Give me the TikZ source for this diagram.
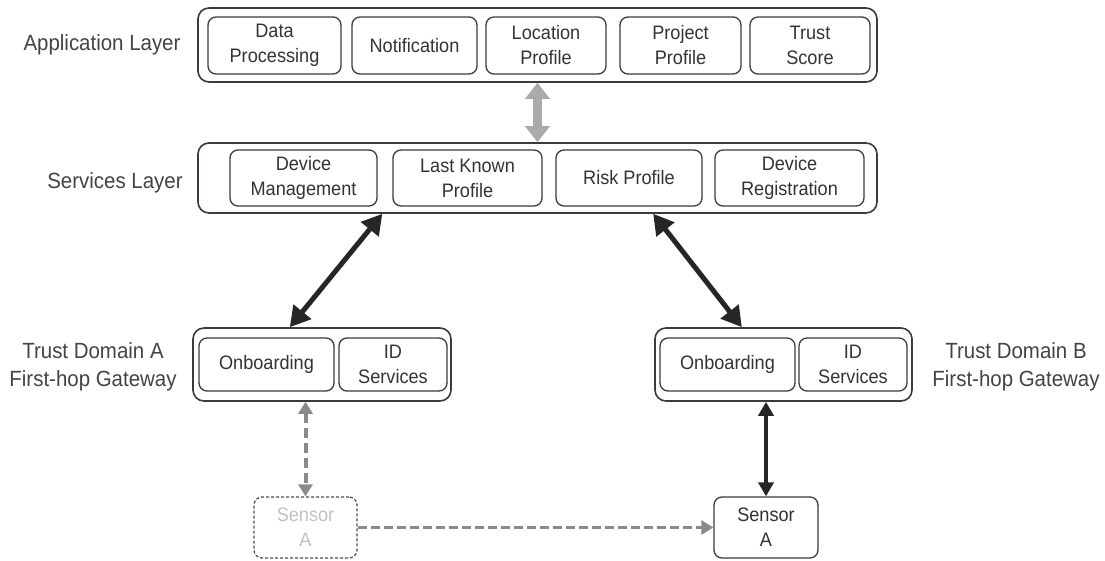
\documentclass[tikz,border=0pt]{standalone}
\usepackage{fontspec}
\setmainfont{Liberation Sans}[FakeStretch=0.93]
\usetikzlibrary{arrows.meta,calc}
\definecolor{bord}{HTML}{3A3A46}
\definecolor{txt}{HTML}{333333}
\definecolor{lbl}{HTML}{444444}
\definecolor{garrow}{HTML}{AAAAAA}
\definecolor{darrow}{HTML}{8A8A8A}
\definecolor{barrow}{HTML}{262626}
\definecolor{faded}{HTML}{C2C2C2}
\tikzset{
  outerbox/.style={draw=bord, line width=1.6pt, rounded corners=11pt, inner sep=0pt},
  inbox/.style={draw=bord, line width=1.3pt, rounded corners=8pt, align=center, text=txt,
    font=\fontsize{19.5}{25}\selectfont, inner sep=0pt},
  layerlabel/.style={align=center, text=lbl, font=\fontsize{22}{28}\selectfont, inner sep=0pt},
  bigblack/.style={draw=barrow, line width=5pt, {Triangle[length=20pt,width=22pt]}-{Triangle[length=20pt,width=22pt]}},
  biggray/.style={draw=garrow, line width=9pt, {Triangle[length=16pt,width=24pt]}-{Triangle[length=16pt,width=24pt]}},
  dashgray/.style={draw=darrow, line width=4pt, dash pattern=on 10pt off 5pt, {Triangle[length=12pt,width=14pt]}-{Triangle[length=12pt,width=14pt]}},
  dashgrayone/.style={draw=darrow, line width=3pt, dash pattern=on 9pt off 4pt, -{Triangle[length=12pt,width=14pt]}},
  thinblack/.style={draw=barrow, line width=3.5pt, {Triangle[length=14pt,width=15pt]}-{Triangle[length=14pt,width=15pt]}},
}
\begin{document}
\begin{tikzpicture}[x=1pt,y=-1pt]
\fill[white] (0,0) rectangle (1105,561);
\useasboundingbox (0,0) rectangle (1105,561);

% Application layer
\node[outerbox, minimum width=679pt, minimum height=74pt] (app) at (537.5,45) {};
\node[inbox, minimum width=133pt, minimum height=57pt] (dp) at (274.5,45.5) {Data\\Processing};
\node[inbox, minimum width=125pt, minimum height=57pt] (nt) at (414.5,45.5) {Notification};
\node[inbox, minimum width=120pt, minimum height=57pt] (lp) at (546,45.5) {Location\\Profile};
\node[inbox, minimum width=121pt, minimum height=57pt] (pp) at (680.5,45.5) {Project\\Profile};
\node[inbox, minimum width=120pt, minimum height=57pt] (ts) at (810,45.5) {Trust\\Score};
\node[layerlabel] (applbl) at (102,45) {Application Layer};

% Services layer
\node[outerbox, minimum width=679pt, minimum height=70pt] (svc) at (537.5,178) {};
\node[inbox, minimum width=147pt, minimum height=56pt] (dm) at (303.5,178) {Device\\Management};
\node[inbox, minimum width=149pt, minimum height=56pt] (lk) at (467.5,178) {Last Known\\Profile};
\node[inbox, minimum width=146pt, minimum height=56pt] (rp) at (629,178) {Risk Profile};
\node[inbox, minimum width=149pt, minimum height=56pt] (dr) at (789.5,178) {Device\\Registration};
\node[layerlabel] (svclbl) at (115,183) {Services Layer};

% Trust domain A
\node[outerbox, minimum width=258pt, minimum height=73pt] (ta) at (322,364.5) {};
\node[inbox, minimum width=135pt, minimum height=53pt] (onba) at (266.5,364.5) {Onboarding};
\node[inbox, minimum width=108pt, minimum height=53pt] (ida) at (393,364.5) {ID\\Services};
\node[layerlabel] (talbl) at (93,367) {Trust Domain A\\First-hop Gateway};

% Trust domain B
\node[outerbox, minimum width=257pt, minimum height=73pt] (tb) at (783.5,364.5) {};
\node[inbox, minimum width=135pt, minimum height=53pt] (onbb) at (727.5,364.5) {Onboarding};
\node[inbox, minimum width=108pt, minimum height=53pt] (idb) at (853,364.5) {ID\\Services};
\node[layerlabel] (tblbl) at (1016,367) {Trust Domain B\\First-hop Gateway};

% Sensors
\node[inbox, draw=bord!90, dash pattern=on 3pt off 2pt, text=faded, minimum width=103pt, minimum height=61pt] (sa) at (305.5,527.5) {Sensor\\A};
\node[inbox, minimum width=104pt, minimum height=61pt] (sb) at (766,527.5) {Sensor\\A};

% Connectors
\draw[biggray] (app.south) -- (svc.north);
\draw[bigblack] ($(svc.south west)!0.272!(svc.south east)$) -- ($(ta.north west)!0.376!(ta.north east)$);
\draw[bigblack] ($(svc.south west)!0.670!(svc.south east)$) -- ($(tb.north west)!0.339!(tb.north east)$);
\draw[dashgray] (sa.north |- ta.south) -- (sa.north);
\draw[thinblack] (sb.north |- tb.south) -- (sb.north);
\draw[dashgrayone] (sa.east) -- (sb.west);
\end{tikzpicture}
\end{document}
